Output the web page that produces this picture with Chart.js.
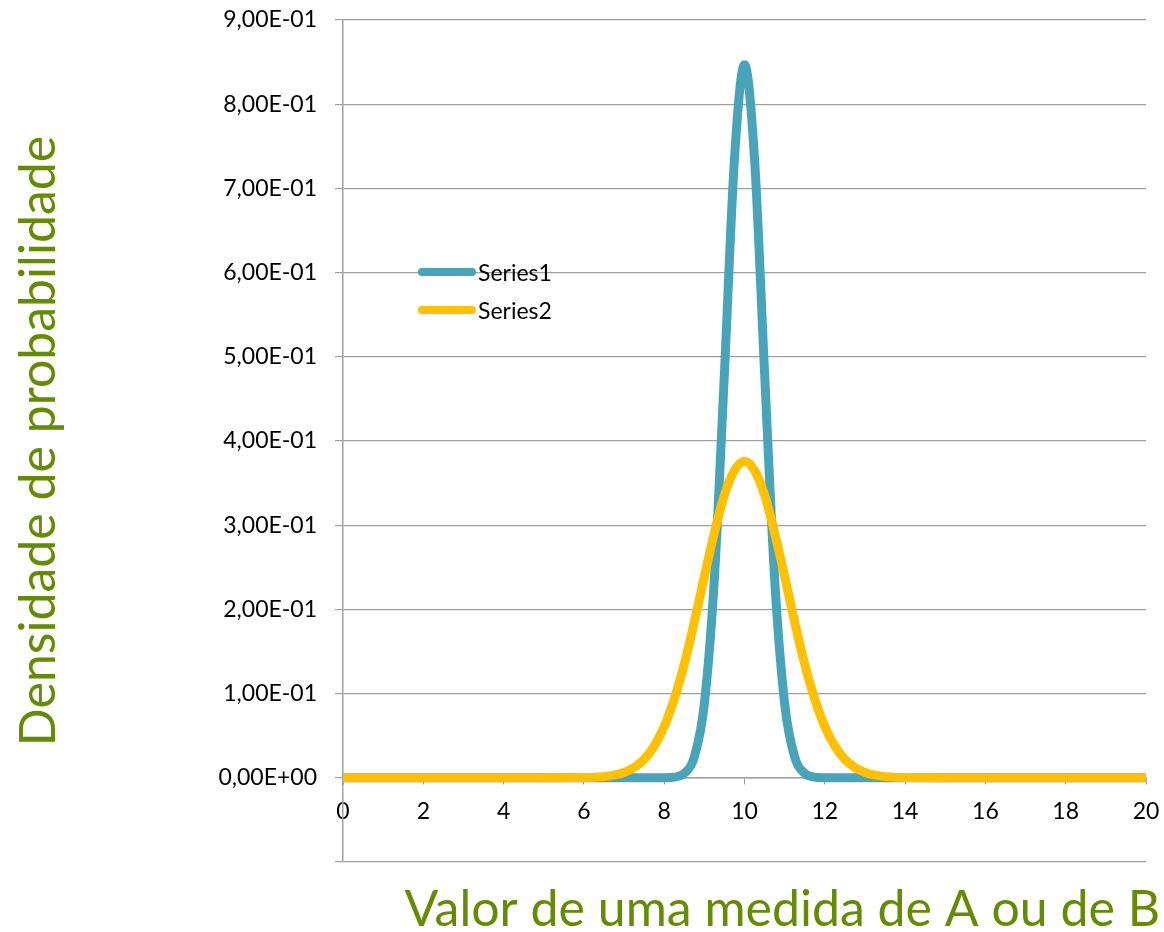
<!DOCTYPE html>
<html lang="pt">
<head>
    <meta charset="UTF-8">
    <title>Densidade de probabilidade</title>
    <style>
        html, body { margin: 0; padding: 0; background: #fff; }
        .chart-box { width: 1164px; height: 932px; }
    </style>
</head>
<body>
    <div class="chart-box">
        <canvas id="densityChart"></canvas>
    </div>

    <script src="https://cdn.jsdelivr.net/npm/chart.js@4.4.1/dist/chart.umd.min.js"></script>
    <script>
        // x positions of the points
        const xValues = [0, 1, 2, 3, 4, 5, 6,
            6.25, 6.5, 6.75, 7, 7.25, 7.5, 7.75, 8, 8.25, 8.5, 8.75, 9, 9.25, 9.5, 9.75, 10,
            10.25, 10.5, 10.75, 11, 11.25, 11.5, 11.75, 12, 12.25, 12.5, 12.75, 13, 13.25, 13.5, 13.75,
            14, 15, 16, 17, 18, 19, 20];
        const series1 = [0, 0, 0, 0, 0, 0, 0,
            0, 0, 0, 0, 0, 0, 0, 0.0001, 0.0008, 0.0052, 0.0246, 0.088, 0.237, 0.481, 0.735, 0.847,
            0.735, 0.481, 0.237, 0.088, 0.0246, 0.0052, 0.0008, 0.0001, 0, 0, 0, 0, 0, 0, 0,
            0, 0, 0, 0, 0, 0, 0];
        const series2 = [0, 0, 0, 0, 0, 0, 0.0003,
            0.0006, 0.0014, 0.0031, 0.0063, 0.0121, 0.022, 0.0377, 0.061, 0.0935, 0.135, 0.185, 0.239, 0.291, 0.336, 0.365, 0.376,
            0.365, 0.336, 0.291, 0.239, 0.185, 0.135, 0.0935, 0.061, 0.0377, 0.022, 0.0121, 0.0063, 0.0031, 0.0014, 0.0006,
            0.0003, 0, 0, 0, 0, 0, 0];
        const seriesNames = ['Series1', 'Series2'];
        const seriesColors = ['#48a5b9', '#ffc000'];
        const xTitle = 'Valor de uma medida de A ou de B';
        const yTitle = 'Densidade de probabilidade';

        const greenText = '#638c00';
        const gridGray = '#a0a0a0';

        // 0.9 -> "9,00E-01"
        function excelSci(v) {
            if (v < -1e-9) return '';
            if (Math.abs(v) < 1e-9) return '0,00E+00';
            const parts = v.toExponential(2).split('e');
            const exp = parseInt(parts[1], 10);
            const sign = exp < 0 ? '-' : '+';
            const digits = String(Math.abs(exp)).padStart(2, '0');
            return parts[0].replace('.', ',') + 'E' + sign + digits;
        }

        const toPoints = arr => arr.map((y, i) => ({ x: xValues[i], y: y }));

        // legend drawn inside the plot, like the original
        const insideLegend = {
            id: 'insideLegend',
            afterDatasetsDraw(chart) {
                const { ctx, chartArea } = chart;
                chart.data.datasets.forEach((ds, i) => {
                    const x0 = chartArea.left + 79;
                    const y = chartArea.top + 252 + i * 38;
                    ctx.save();
                    ctx.strokeStyle = ds.borderColor;
                    ctx.lineWidth = 8;
                    ctx.lineCap = 'round';
                    ctx.beginPath();
                    ctx.moveTo(x0, y);
                    ctx.lineTo(x0 + 50, y);
                    ctx.stroke();
                    ctx.fillStyle = '#000';
                    ctx.font = '23px Lato';
                    ctx.textBaseline = 'middle';
                    ctx.fillText(ds.label, x0 + 56, y + 2);
                    ctx.restore();
                });
            }
        };

        // x axis title sits a bit past the right edge of the plot
        const xTitlePlugin = {
            id: 'xTitlePlugin',
            afterDraw(chart) {
                const { ctx, chartArea } = chart;
                ctx.save();
                ctx.fillStyle = greenText;
                ctx.font = '50px Lato';
                ctx.textAlign = 'right';
                ctx.textBaseline = 'middle';
                ctx.fillText(xTitle, chartArea.right + 14, chartArea.bottom + 48);
                ctx.restore();
            }
        };

        const ctx = document.getElementById('densityChart').getContext('2d');
        const densityChart = new Chart(ctx, {
            type: 'scatter',
            data: {
                datasets: [{
                    label: seriesNames[0],
                    data: toPoints(series1),
                    borderColor: seriesColors[0],
                    backgroundColor: seriesColors[0],
                    order: 1
                }, {
                    label: seriesNames[1],
                    data: toPoints(series2),
                    borderColor: seriesColors[1],
                    backgroundColor: seriesColors[1],
                    order: 0
                }]
            },
            options: {
                responsive: true,
                maintainAspectRatio: false,
                animation: false,
                showLine: true,
                elements: {
                    point: { radius: 0, hoverRadius: 0 },
                    line: { borderWidth: 9, cubicInterpolationMode: 'monotone', borderCapStyle: 'round', borderJoinStyle: 'round', fill: false }
                },
                layout: { padding: { top: 20, right: 18, left: 0, bottom: 0 } },
                plugins: {
                    legend: { display: false },
                    tooltip: { enabled: false }
                },
                scales: {
                    x: {
                        type: 'linear',
                        min: 0,
                        max: 20,
                        position: { y: 0 },
                        ticks: {
                            stepSize: 2,
                            color: '#000',
                            font: { family: 'Lato', size: 23 },
                            padding: 14,
                            maxRotation: 0
                        },
                        grid: { drawOnChartArea: false, drawTicks: true, tickLength: 6, color: gridGray },
                        border: { display: true, color: gridGray, width: 1.5 },
                        afterFit(scale) { scale.paddingLeft = 0; scale.paddingRight = 0; }
                    },
                    xb: {
                        type: 'linear',
                        min: 0,
                        max: 20,
                        position: 'bottom',
                        ticks: { display: false },
                        grid: { display: false, drawTicks: false },
                        border: { display: false },
                        afterFit(scale) { scale.height = 70; scale.paddingLeft = 0; scale.paddingRight = 0; }
                    },
                    y: {
                        type: 'linear',
                        min: -0.1,
                        max: 0.9,
                        ticks: {
                            stepSize: 0.1,
                            color: '#000',
                            font: { family: 'Lato', size: 23 },
                            padding: 18,
                            callback: v => excelSci(v)
                        },
                        grid: { color: gridGray, lineWidth: 1.2, tickLength: 8 },
                        border: { display: true, color: gridGray, width: 1.5 },
                        title: {
                            display: true,
                            text: yTitle,
                            color: greenText,
                            font: { family: 'Lato', size: 50, lineHeight: 1 },
                            padding: { top: 14, bottom: 0 }
                        },
                        afterFit(scale) { scale.width = 343; scale.paddingTop = 0; scale.paddingBottom = 0; }
                    }
                }
            },
            plugins: [insideLegend, xTitlePlugin]
        });
    </script>
</body>
</html>
